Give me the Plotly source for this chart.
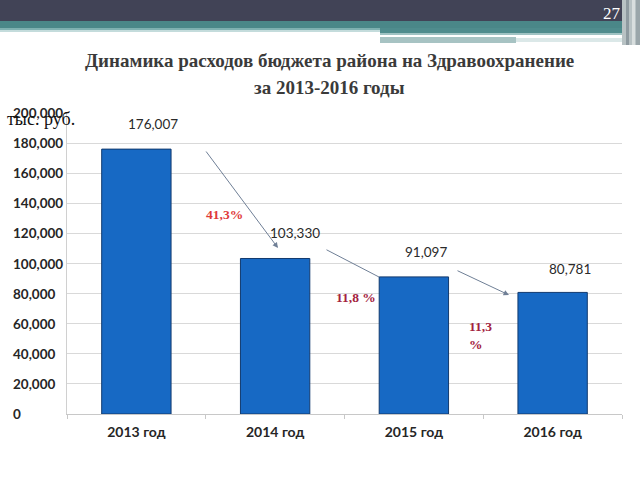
import plotly.graph_objects as go

# ---- data ----
categories = ["2013 год", "2014 год", "2015 год", "2016 год"]
values = [176007, 103330, 91097, 80781]
value_labels = ["176,007", "103,330", "91,097", "80,781"]
y_ticks = [0, 20000, 40000, 60000, 80000, 100000, 120000, 140000, 160000, 180000, 200000]
y_tick_labels = ["0", "20,000", "40,000", "60,000", "80,000", "100,000", "120,000",
                 "140,000", "160,000", "180,000", "200,000"]
pct_labels = ["41,3%", "11,8 %", "11,3<br>%"]
title_lines = ["Динамика расходов бюджета района на Здравоохранение", "за 2013-2016 годы"]
unit_label = "тыс. руб."
page_number = "27"

# ---- geometry helpers (pixels -> paper) ----
W, H = 640, 480
L, R, T, B = 67, 622, 113, 414
PW, PH = R - L, B - T


def px(x):
    return (x - L) / PW


def py(y):
    return (B - y) / PH


fig = go.Figure()
fig.add_trace(go.Bar(
    x=categories, y=values,
    marker=dict(color="#1769c4", line=dict(color="#123a6e", width=1)),
    width=0.5,
))

annotations = []
# label offsets (pixels) of the data labels relative to bar tops
label_dx = [17, 20, 12, 17]
label_dy = [25, 25, 25, 23]
for c, v, t, dx, dy in zip(categories, values, value_labels, label_dx, label_dy):
    annotations.append(dict(x=c, y=v, text=t, showarrow=False, xshift=dx, yshift=dy,
                            font=dict(family="Lato", size=13.5, color="#2a2a2a")))

# y tick labels (left aligned)
for v, t in zip(y_ticks, y_tick_labels):
    annotations.append(dict(x=px(11), xref="paper", y=v, yref="y", text=t, showarrow=False,
                            xanchor="left", yanchor="middle",
                            font=dict(family="Lato", size=13.5, color="#262626", weight="bold")))

# title
annotations.append(dict(x=px(329), y=py(61), xref="paper", yref="paper", text="<b>" + title_lines[0] + "</b>",
                        showarrow=False, xanchor="center", yanchor="middle",
                        font=dict(family="Liberation Serif", size=19, color="#3a3a3a")))
annotations.append(dict(x=px(329), y=py(87), xref="paper", yref="paper", text="<b>" + title_lines[1] + "</b>",
                        showarrow=False, xanchor="center", yanchor="middle",
                        font=dict(family="Liberation Serif", size=19, color="#3a3a3a")))
# unit label
annotations.append(dict(x=px(5), y=py(119), xref="paper", yref="paper", text=unit_label,
                        showarrow=False, xanchor="left", yanchor="middle",
                        font=dict(family="Liberation Serif", size=18, color="#111111")))
# page number
annotations.append(dict(x=px(612), y=py(13), xref="paper", yref="paper", text=page_number,
                        showarrow=False, xanchor="center", yanchor="middle",
                        font=dict(family="Liberation Serif", size=17, color="#ffffff")))

# arrows
arrow_color = "#6f7f96"
arrows = [((278, 248), (205, 150), 2), ((379, 277), (325, 249), 0), ((509, 295), (456, 270), 2)]
for (hx, hy), (tx, ty), head in arrows:
    annotations.append(dict(x=px(hx), y=py(hy), xref="paper", yref="paper", text="",
                            showarrow=True, ax=tx - hx, ay=ty - hy, axref="pixel", ayref="pixel",
                            arrowhead=head, arrowsize=1.1, arrowwidth=1, arrowcolor=arrow_color,
                            standoff=0, startstandoff=0))

# percentage labels
annotations.append(dict(x=px(224), y=py(214), xref="paper", yref="paper", text="<b>" + pct_labels[0] + "</b>",
                        showarrow=False, xanchor="center", yanchor="middle",
                        font=dict(family="Liberation Serif", size=13.5, color="#e03a3a")))
annotations.append(dict(x=px(356), y=py(297), xref="paper", yref="paper", text="<b>" + pct_labels[1] + "</b>",
                        showarrow=False, xanchor="center", yanchor="middle",
                        font=dict(family="Liberation Serif", size=13.5, color="#a3223d")))
annotations.append(dict(x=px(467), y=py(335), xref="paper", yref="paper", text="<b>" + pct_labels[2] + "</b>",
                        showarrow=False, xanchor="left", yanchor="middle", align="left",
                        font=dict(family="Liberation Serif", size=13.5, color="#a3223d")))

# header decoration shapes
shapes = []


def rect(x0, y0, x1, y1, color):
    shapes.append(dict(type="rect", xref="paper", yref="paper", x0=px(x0), x1=px(x1),
                       y0=py(y1), y1=py(y0), fillcolor=color, line=dict(width=0), layer="below"))


rect(0, 0, 640, 21, "#414356")
rect(0, 21, 640, 28, "#4a8788")
rect(0, 28, 640, 30, "#7eb0b0")
rect(0, 30, 380, 32, "#c4dcdc")
rect(380, 28, 628, 33, "#4f8c8d")
rect(380, 33, 628, 35, "#9fc3c3")
rect(380, 35, 593, 36.5, "#ffffff")
rect(380, 37, 516, 43, "#a7c3c3")
rect(516, 38, 628, 42, "#dbe8e8")
rect(622, 0, 640, 45, "#b8c2c4")
rect(626, 0, 629, 45, "#8e9aa0")
rect(632, 0, 635, 45, "#d8dede")
rect(636, 0, 640, 45, "#9aa6aa")

fig.update_layout(
    width=W, height=H,
    margin=dict(l=L, r=W - R, t=T, b=H - B),
    paper_bgcolor="white", plot_bgcolor="white",
    showlegend=False,
    bargap=0.5,
    annotations=annotations,
    shapes=shapes,
    xaxis=dict(type="category", showgrid=False, showline=True, linecolor="#c8c8c8", linewidth=1,
               ticks="outside", tickson="boundaries", ticklen=4, tickcolor="#c8c8c8",
               ticklabelstandoff=5,
               tickfont=dict(family="Lato", size=14, color="#262626", weight="bold")),
    yaxis=dict(range=[0, 200000], tickvals=y_ticks, showticklabels=False, showgrid=True,
               gridcolor="#d9d9d9", gridwidth=1, zeroline=False, showline=True,
               linecolor="#d0d0d0", linewidth=1, ticks=""),
)

fig.write_html("out.html")
